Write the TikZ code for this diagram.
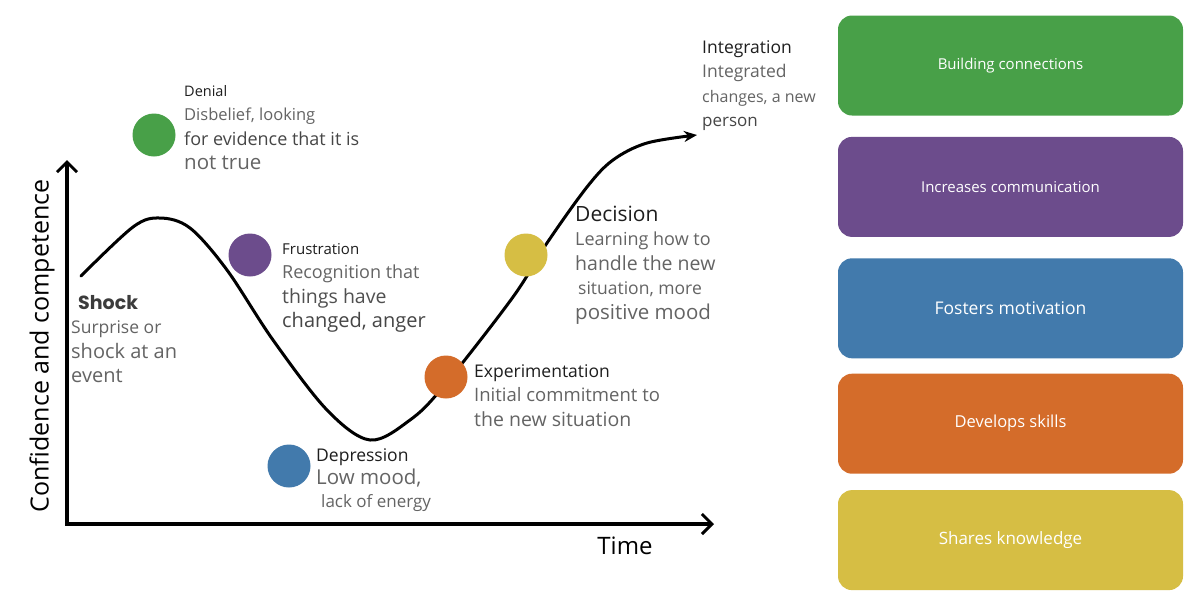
\documentclass[tikz,border=0pt]{standalone}
\usepackage{fontspec}
\setmainfont{Open Sans}
\newfontfamily\headfont{Poppins}
\usetikzlibrary{positioning,arrows.meta}
\usepackage{xcolor}
\definecolor{stagegreen}{RGB}{72,160,72}
\definecolor{stagepurple}{RGB}{108,76,140}
\definecolor{stageblue}{RGB}{66,122,172}
\definecolor{stageorange}{RGB}{212,108,42}
\definecolor{stageyellow}{RGB}{214,190,68}
\definecolor{headblack}{RGB}{30,30,30}
\definecolor{bodygray}{RGB}{100,100,100}
\newcommand{\fs}[1]{\fontsize{#1}{24}\selectfont}
\newcommand{\stagehead}[2]{{\fs{#1}\color{headblack}#2}}

\begin{document}
\begin{tikzpicture}[
    x=1pt, y=-1pt,
    node distance=21pt,
    dot/.style={circle, minimum size=43pt, inner sep=0pt},
    % base of a multi-line label = baseline of its last line
    stagelabel/.style={anchor=base west, inner sep=0pt, align=left,
                text=bodygray, font=\fontsize{18}{24.5}\selectfont},
    benefit/.style={rectangle, rounded corners=14pt, minimum width=345pt,
                minimum height=100pt, text=white, font=\fontsize{15}{18}\selectfont},
    axis/.style={-{Straight Barb[length=10pt, width=20pt, line width=3pt]},
                line width=3.2pt, draw=black},
    curve/.style={-{Stealth[length=13pt, width=11pt]}, line width=3pt,
                line cap=round, line join=round}
]
\path[fill=white, use as bounding box] (0,0) rectangle (1188,598);

% axes
\coordinate (origin) at (67,524);
\coordinate (ytop) at (67,160);
\coordinate (xend) at (714,524);
\draw[axis] ([yshift=-1.6pt]origin) -- (ytop);
\draw[axis] ([xshift=-1.6pt]origin) -- (xend);
\node[rotate=90, font=\fontsize{25}{30}\selectfont] (ylabel) at (42,346) {Confidence and competence};
\node[font=\fontsize{24}{28}\selectfont] (xlabel) at (625,546) {Time};

% change curve
\draw[curve] plot[smooth, tension=0.55] coordinates {
    (81,276) (133,227) (160,218) (190,228) (227,270) (273,340) (327,410)
    (370,440) (410,420) (443,387) (513,297) (547,243) (587,187) (613,160)
    (647,143) (697,135)};

% stage dots
\node[dot, fill=stagegreen] (denialdot) at (154,135) {};
\node[dot, fill=stagepurple] (frustdot) at (250,255) {};
\node[dot, fill=stageblue] (depressdot) at (289,466) {};
\node[dot, fill=stageorange] (experdot) at (446,377) {};
\node[dot, fill=stageyellow] (decisiondot) at (526,255) {};

% stage labels
\node[stagelabel] (shock) at (71,382.5) {%
    \hspace*{7pt}{\headfont\bfseries\fs{19}\color[RGB]{60,60,60}Shock}\\
    \fs{17.5}Surprise or\\
    \fs{20}shock at an\\
    \fs{20}event};
\node[stagelabel] (denial) at (184,169.5) {%
    \stagehead{14.5}{Denial}\\
    \fs{16.5}Disbelief, looking\\
    {\fs{18}\color[RGB]{70,70,70}for evidence that it is}\\
    \fs{20.5}not true};
\node[stagelabel] (frust) at (282,327.5) {%
    \stagehead{15}{Frustration}\\
    \fs{18}Recognition that\\
    {\fs{19.5}\color[RGB]{80,80,80}things have}\\
    {\fs{20}\color[RGB]{70,70,70}changed, anger}};
\node[stagelabel, font=\fontsize{18}{23}\selectfont] (depress) at (316,507) {%
    \stagehead{17.5}{Depression}\\
    \fs{20.5}Low mood,\\
    \hspace*{5pt}\fs{17}lack of energy};
\node[stagelabel] (exper) at (474,426) {%
    \stagehead{17.5}{Experimentation}\\
    \fs{18.5}Initial commitment to\\
    \fs{19.5}the new situation};
\node[stagelabel] (decision) at (575,319) {%
    \stagehead{21}{Decision}\\
    \fs{18}Learning how to\\
    \fs{19.5}handle the new\\
    \hspace*{3pt}\fs{17.5}situation, more\\
    \fs{20.5}positive mood};
\node[stagelabel] (integr) at (702,126.5) {%
    \stagehead{17.5}{Integration}\\
    \fs{17.5}Integrated\\
    \fs{16}changes, a new\\
    {\fs{17}\color[RGB]{70,70,70}person}};

% benefits
\node[benefit, fill=stagegreen] (connect) at (1010.5,65.5) {Building connections};
\node[benefit, fill=stagepurple, below=of connect] (communic) {Increases communication};
\node[benefit, fill=stageblue, below=of communic, font=\fontsize{17.5}{20}\selectfont] (motiv) {Fosters motivation};
\node[benefit, fill=stageorange, below=15pt of motiv, font=\fontsize{16.5}{20}\selectfont] (skills) {Develops skills};
\node[benefit, fill=stageyellow, below=16pt of skills, font=\fontsize{17}{20}\selectfont] (knowl) {Shares knowledge};

\end{tikzpicture}
\end{document}
